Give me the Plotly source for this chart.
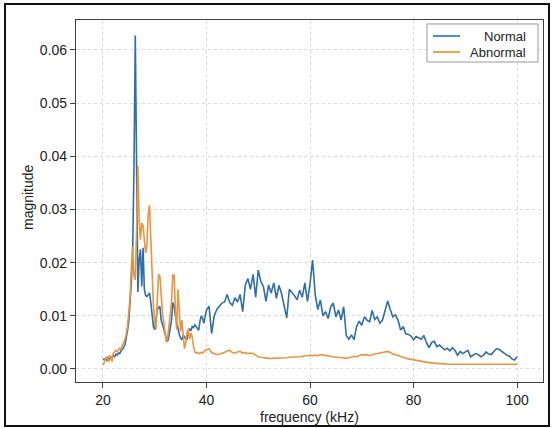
import numpy as np
import plotly.graph_objects as go

# frequency grid (kHz): fine steps in the resonance region, coarser afterwards
freq_fine = np.arange(20.0, 40.0001, 0.25)
freq_coarse = np.arange(40.5, 100.0001, 0.5)

normal_fine = [
    0.0019, 0.0017, 0.0020, 0.0016, 0.0021, 0.0018, 0.0023, 0.0021, 0.0025, 0.0023,
    0.0028, 0.0026, 0.0030, 0.0029, 0.0034, 0.0037, 0.0040, 0.0046, 0.0056, 0.0072,
    0.0090, 0.0120, 0.0165, 0.0225, 0.0380, 0.0627, 0.0290, 0.0145, 0.0205, 0.0225,
    0.0155, 0.0228, 0.0150, 0.0138, 0.0136, 0.0140, 0.0143, 0.0125, 0.0100, 0.0080,
    0.0074, 0.0095, 0.0112, 0.0115, 0.0118, 0.0092, 0.0085, 0.0075, 0.0067, 0.0055,
    0.0052, 0.0062, 0.0075, 0.0092, 0.0125, 0.0118, 0.0100, 0.0086, 0.0076, 0.0065,
    0.0058, 0.0055, 0.0064, 0.0060, 0.0057, 0.0055, 0.0070, 0.0076, 0.0072, 0.0080,
    0.0078, 0.0083, 0.0080, 0.0076, 0.0073, 0.0090, 0.0100, 0.0095, 0.0086, 0.0100,
    0.0111,
]
normal_coarse = [
    0.0118, 0.0067, 0.0100, 0.0112, 0.0118, 0.0124, 0.0126, 0.0140, 0.0125, 0.0120,
    0.0134, 0.0126, 0.0140, 0.0108, 0.0158, 0.0170, 0.0150, 0.0178, 0.0135, 0.0186,
    0.0165, 0.0155, 0.0127, 0.0158, 0.0143, 0.0162, 0.0133, 0.0157, 0.0142, 0.0120,
    0.0096, 0.0150, 0.0145, 0.0138, 0.0130, 0.0148, 0.0135, 0.0162, 0.0127, 0.0160,
    0.0205, 0.0140, 0.0112, 0.0130, 0.0100, 0.0108, 0.0095, 0.0117, 0.0124, 0.0098,
    0.0111, 0.0092, 0.0117, 0.0063, 0.0056, 0.0064, 0.0055, 0.0080, 0.0090, 0.0082,
    0.0098, 0.0092, 0.0089, 0.0110, 0.0093, 0.0098, 0.0086, 0.0092, 0.0110, 0.0128,
    0.0112, 0.0098, 0.0102, 0.0092, 0.0073, 0.0080, 0.0066, 0.0065, 0.0062, 0.0055,
    0.0061, 0.0058, 0.0056, 0.0063, 0.0049, 0.0040, 0.0050, 0.0052, 0.0042, 0.0045,
    0.0040, 0.0036, 0.0039, 0.0034, 0.0040, 0.0035, 0.0026, 0.0033, 0.0029, 0.0032,
    0.0035, 0.0023, 0.0026, 0.0029, 0.0027, 0.0023, 0.0026, 0.0032, 0.0028, 0.0027,
    0.0033, 0.0038, 0.0037, 0.0033, 0.0029, 0.0026, 0.0024, 0.0019, 0.0017, 0.0023,
]

abnormal_fine = [
    0.0008, 0.0012, 0.0020, 0.0023, 0.0013, 0.0026, 0.0022, 0.0014, 0.0030, 0.0032,
    0.0035, 0.0033, 0.0037, 0.0039, 0.0036, 0.0045, 0.0048, 0.0055, 0.0065, 0.0080,
    0.0105, 0.0135, 0.0193, 0.0230, 0.0175, 0.0168, 0.0260, 0.0382, 0.0280, 0.0243,
    0.0275, 0.0270, 0.0243, 0.0218, 0.0235, 0.0290, 0.0308, 0.0250, 0.0170, 0.0120,
    0.0090, 0.0074, 0.0130, 0.0178, 0.0175, 0.0138, 0.0105, 0.0088, 0.0067, 0.0050,
    0.0060, 0.0085, 0.0108, 0.0124, 0.0178, 0.0176, 0.0110, 0.0074, 0.0150, 0.0110,
    0.0070, 0.0092, 0.0055, 0.0038, 0.0050, 0.0068, 0.0074, 0.0056, 0.0068, 0.0060,
    0.0042, 0.0032, 0.0030, 0.0031, 0.0029, 0.0030, 0.0031, 0.0030, 0.0033, 0.0035,
    0.0036,
]
abnormal_coarse = [
    0.0038, 0.0031, 0.0029, 0.0027, 0.0028, 0.0029, 0.0031, 0.0034, 0.0035, 0.0031,
    0.0030, 0.0032, 0.0033, 0.0030, 0.0031, 0.0029, 0.0030, 0.0029, 0.0026, 0.0023,
    0.0022, 0.0021, 0.0020, 0.0020, 0.0020, 0.0020, 0.0020, 0.0020, 0.0021, 0.0021,
    0.0021, 0.0022, 0.0022, 0.0022, 0.0023, 0.0023, 0.0024, 0.0024, 0.0025, 0.0026,
    0.0025, 0.0026, 0.0025, 0.0027, 0.0026, 0.0025, 0.0024, 0.0024, 0.0023, 0.0022,
    0.0022, 0.0021, 0.0021, 0.0020, 0.0021, 0.0022, 0.0024, 0.0023, 0.0025, 0.0027,
    0.0026, 0.0027, 0.0025, 0.0027, 0.0028, 0.0029, 0.0030, 0.0031, 0.0032, 0.0033,
    0.0031, 0.0028, 0.0027, 0.0025, 0.0023, 0.0022, 0.0020, 0.0019, 0.0018, 0.0017,
    0.0016, 0.0015, 0.0014, 0.0013, 0.0012, 0.0012, 0.0011, 0.0011, 0.0010, 0.0010,
    0.0010, 0.0009, 0.0009, 0.0009, 0.0009, 0.0009, 0.0008, 0.0008, 0.0008, 0.0008,
    0.0008, 0.0008, 0.0008, 0.0008, 0.0008, 0.0008, 0.0008, 0.0008, 0.0008, 0.0008,
    0.0008, 0.0008, 0.0008, 0.0008, 0.0008, 0.0008, 0.0009, 0.0009, 0.0009, 0.0009,
]

series_names = ["Normal", "Abnormal"]
x_ticks = [20, 40, 60, 80, 100]
y_ticks = [0.00, 0.01, 0.02, 0.03, 0.04, 0.05, 0.06]
x_title = "frequency (kHz)"
y_title = "magnitude"

freq = np.concatenate([freq_fine, freq_coarse])
normal = np.array(normal_fine + normal_coarse)
abnormal = np.array(abnormal_fine + abnormal_coarse)

BLUE = "#2f6fa7"
ORANGE = "#ea9540"
FONT = "Liberation Sans, Arial, sans-serif"

fig = go.Figure()
fig.add_trace(go.Scatter(x=freq, y=normal, mode="lines", name=series_names[0],
                         line=dict(color=BLUE, width=1.6), showlegend=False))
fig.add_trace(go.Scatter(x=freq, y=abnormal, mode="lines", name=series_names[1],
                         line=dict(color=ORANGE, width=1.6), showlegend=False))

axis_common = dict(
    showline=True, mirror=True, linecolor="#404040", linewidth=1.2,
    ticks="outside", ticklen=5, tickwidth=1, tickcolor="#404040",
    showgrid=True, gridcolor="#dcdcdc", griddash="dot", gridwidth=1,
    zeroline=False, automargin=False,
    tickfont=dict(family=FONT, size=14, color="#222"),
)

fig.update_layout(
    width=553, height=428,
    margin=dict(l=76, r=10, t=20, b=46),
    paper_bgcolor="white", plot_bgcolor="white",
    xaxis=dict(range=[14.8, 105.0], tickvals=x_ticks, **axis_common),
    yaxis=dict(range=[-0.00245, 0.06564], tickvals=y_ticks, tickformat=".2f", **axis_common),
)

# axis titles
fig.add_annotation(xref="paper", yref="paper", x=0.5, y=-0.0967, text=x_title, showarrow=False,
                   xanchor="center", yanchor="middle", font=dict(family=FONT, size=14, color="#222"))
fig.add_annotation(xref="paper", yref="paper", x=-0.1028, y=0.511, text=y_title, showarrow=False,
                   textangle=-90, xanchor="center", yanchor="middle",
                   font=dict(family=FONT, size=14, color="#222"))

# outer frame of the picture
fig.add_shape(type="rect", xref="paper", yref="paper", x0=-0.152, x1=1.0128, y0=-0.1215, y1=1.0442,
              line=dict(color="#111", width=2), fillcolor="rgba(0,0,0,0)", layer="above")

# legend drawn manually (right-aligned labels)
fig.add_shape(type="rect", xref="paper", yref="paper", x0=0.7516, x1=0.9893, y0=0.884, y1=0.989,
              line=dict(color="#9a9a9a", width=1), fillcolor="white", layer="above")
leg_rows = [(0.9558, "#4a8fe0", series_names[0]), (0.9116, "#f2a53c", series_names[1])]
for yy, col, txt in leg_rows:
    fig.add_shape(type="line", xref="paper", yref="paper", x0=0.7645, x1=0.8223, y0=yy, y1=yy,
                  line=dict(color=col, width=2), layer="above")
    fig.add_annotation(xref="paper", yref="paper", x=0.9679, y=yy, text=txt, showarrow=False,
                       xanchor="right", yanchor="middle",
                       font=dict(family=FONT, size=13, color="#222"))

fig.write_html("out.html", config={"displayModeBar": False},
               post_script="document.body.style.margin='0px';document.body.style.overflow='hidden';")
